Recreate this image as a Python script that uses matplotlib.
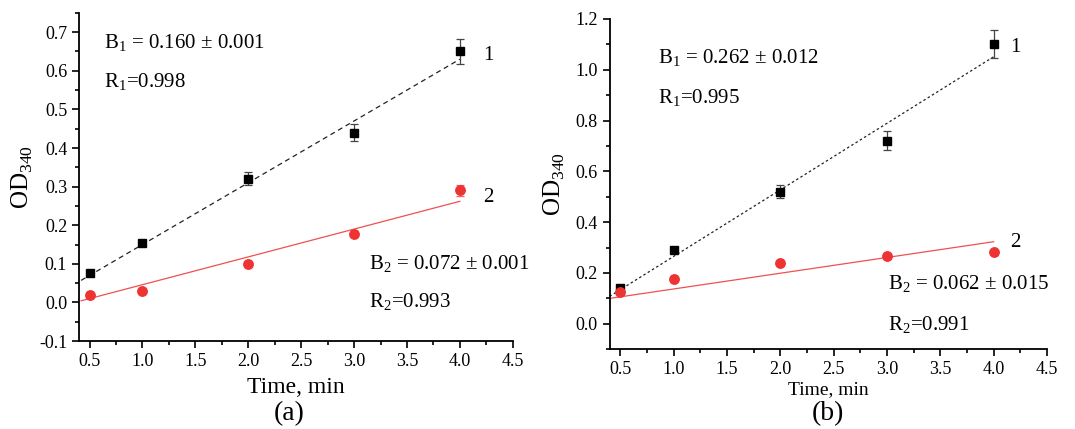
import matplotlib.pyplot as plt
import numpy as np
from matplotlib.ticker import MultipleLocator, FormatStrFormatter

plt.rcParams['font.family'] = ['Liberation Serif', 'DejaVu Serif']
plt.rcParams['mathtext.fontset'] = 'custom'
plt.rcParams['mathtext.rm'] = 'Liberation Serif'

time = [0.5, 1.0, 2.0, 3.0, 4.0]

# panel (a)
a_od1 = [0.075, 0.155, 0.32, 0.44, 0.65]
a_err1 = [0.004, 0.004, 0.017, 0.022, 0.032]
a_od2 = [0.018, 0.03, 0.10, 0.178, 0.29]
a_err2 = [0.003, 0.003, 0.004, 0.006, 0.014]
a_fit1 = (0.160, -0.010)
a_fit2 = (0.072, -0.026)

# panel (b)
b_od1 = [0.14, 0.29, 0.52, 0.72, 1.10]
b_err1 = [0.01, 0.01, 0.025, 0.037, 0.055]
b_od2 = [0.125, 0.178, 0.24, 0.265, 0.282]
b_err2 = [0.005, 0.005, 0.005, 0.005, 0.005]
b_fit1 = (0.262, 0.003)
b_fit2 = (0.062, 0.075)

fig = plt.figure(figsize=(10.75, 4.29), dpi=100)
ax1 = fig.add_axes([0.0735, 0.205, 0.4035, 0.765])
ax2 = fig.add_axes([0.567, 0.186, 0.407, 0.77])


def draw(ax, od1, err1, od2, err2, fit1, fit2, x0, ls1):
    x = np.array([x0, 4.0])
    ax.plot(x, fit1[0] * x + fit1[1], color='#222222', lw=0.9, ls=ls1, zorder=2)
    ax.plot(x, fit2[0] * x + fit2[1], color='#f05050', lw=0.9, zorder=2)
    ax.errorbar(time, od1, yerr=err1, fmt='s', color='black', ms=6,
                ecolor='#444444', elinewidth=0.9, capsize=3, capthick=0.9, zorder=3)
    ax.errorbar(time, od2, yerr=err2, fmt='o', color='#ee3333', ms=6.8,
                ecolor='#ee6666', elinewidth=0.9, capsize=3, capthick=0.9, zorder=3)
    ax.spines['top'].set_visible(False)
    ax.spines['right'].set_visible(False)
    for s in ['left', 'bottom']:
        ax.spines[s].set_linewidth(1.3)
    ax.set_xlim(0.4, 4.5)
    ax.xaxis.set_major_locator(MultipleLocator(0.5))
    ax.xaxis.set_minor_locator(MultipleLocator(0.25))
    ax.xaxis.set_major_formatter(FormatStrFormatter('%.1f'))
    ax.yaxis.set_major_formatter(FormatStrFormatter('%.1f'))
    ax.tick_params(which='major', direction='out', length=5, width=1.2, labelsize=13)
    ax.tick_params(which='minor', direction='out', length=3, width=1.2)


fs = 15

draw(ax1, a_od1, a_err1, a_od2, a_err2, a_fit1, a_fit2, 0.42, (0, (4, 3)))
ax1.set_ylim(-0.1, 0.75)
ax1.yaxis.set_major_locator(MultipleLocator(0.1))
ax1.yaxis.set_minor_locator(MultipleLocator(0.05))
ax1.set_xlabel('Time, min', fontsize=17, labelpad=5)
ax1.set_ylabel('OD$_{340}$', fontsize=18, labelpad=3)
ax1.text(0.64, 0.672, r'B$_{1}$ = 0.160 ± 0.001', fontsize=fs, va='center')
ax1.text(0.64, 0.57, r'R$_{1}$=0.998', fontsize=fs, va='center')
ax1.text(4.22, 0.64, '1', fontsize=fs, va='center')
ax1.text(4.22, 0.273, '2', fontsize=fs, va='center')
ax1.text(3.14, 0.10, r'B$_{2}$ = 0.072 ± 0.001', fontsize=fs, va='center')
ax1.text(3.14, 0.0, r'R$_{2}$=0.993', fontsize=fs, va='center')
fig.text(0.269, 0.035, '(a)', fontsize=20, ha='center', va='center')

draw(ax2, b_od1, b_err1, b_od2, b_err2, b_fit1, b_fit2, 0.4, (0, (2, 2)))
ax2.set_ylim(-0.1, 1.2)
ax2.yaxis.set_minor_locator(MultipleLocator(0.1))
ax2.set_yticks(np.arange(0.0, 1.21, 0.2))
ax2.set_xlabel('Time, min', fontsize=14, labelpad=2)
ax2.set_ylabel('OD$_{340}$', fontsize=18, labelpad=6)
ax2.text(0.85, 1.047, r'B$_{1}$ = 0.262 ± 0.012', fontsize=fs, va='center')
ax2.text(0.85, 0.886, r'R$_{1}$=0.995', fontsize=fs, va='center')
ax2.text(4.15, 1.087, '1', fontsize=fs, va='center')
ax2.text(4.15, 0.32, '2', fontsize=fs, va='center')
ax2.text(3.01, 0.157, r'B$_{2}$ = 0.062 ± 0.015', fontsize=fs, va='center')
ax2.text(3.01, -0.004, r'R$_{2}$=0.991', fontsize=fs, va='center')
fig.text(0.770, 0.035, '(b)', fontsize=20, ha='center', va='center')

fig.savefig('out.png', dpi=100)
